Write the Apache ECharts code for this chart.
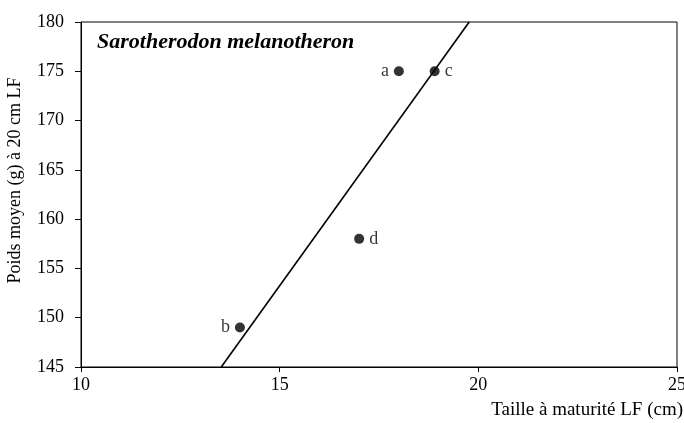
<!DOCTYPE html>
<html>
<head>
<meta charset="utf-8">
<script src="https://cdn.jsdelivr.net/npm/echarts@6/dist/echarts.min.js"></script>
<style>html,body{margin:0;padding:0;background:#fff}#c{width:684px;height:423px}</style>
</head>
<body>
<div id="c"></div>
<script>
var pointLabels = ['a', 'c', 'd', 'b'];
var pointX = [18, 18.9, 17, 14];
var pointY = [175, 175, 158, 149];
var lineX = [13.53, 19.77];
var lineY = [145, 180];
var xTicks = [10, 15, 20, 25];
var yTicks = [145, 150, 155, 160, 165, 170, 175, 180];
var titleText = 'Sarotherodon melanotheron';
var xName = 'Taille à maturité LF (cm)';
var yName = 'Poids moyen (g) à 20 cm LF';

var font = '"Liberation Serif", "Times New Roman", serif';
var labelPos = {a: 'left', c: 'right', d: 'right', b: 'left'};

var chart = echarts.init(document.getElementById('c'), null, {renderer: 'canvas'});
chart.setOption({
  animation: false,
  backgroundColor: '#fff',
  grid: {left: 81, right: 7, top: 22, bottom: 56, containLabel: false, outerBoundsMode: 'none',
    show: true, borderColor: '#000', borderWidth: 1, backgroundColor: 'transparent'},
  xAxis: {
    type: 'value', min: 10, max: 25, interval: 5,
    axisLine: {show: true, lineStyle: {color: '#000', width: 1}},
    axisTick: {show: true, inside: false, length: 5, lineStyle: {color: '#000'}},
    axisLabel: {color: '#000', fontFamily: font, fontSize: 18, margin: 9},
    splitLine: {show: false}
  },
  yAxis: {
    type: 'value', min: 145, max: 180, interval: 5,
    axisLine: {show: true, lineStyle: {color: '#000', width: 1}},
    axisTick: {show: true, inside: false, length: 6, lineStyle: {color: '#000'}},
    axisLabel: {color: '#000', fontFamily: font, fontSize: 18, margin: 17},
    splitLine: {show: false},
    name: yName, nameLocation: 'middle', nameGap: 57, nameRotate: 90,
    nameTextStyle: {color: '#000', fontFamily: font, fontSize: 18, padding: [0, 0, 0, 28]}
  },
  graphic: [
    {type: 'text', left: 97, top: 31, style: {text: titleText, font: 'italic bold 22px ' + font, fill: '#000'}},
    {type: 'text', right: 1, top: 401, style: {text: xName, font: '19px ' + font, fill: '#000'}}
  ],
  series: [
    {
      type: 'line', data: lineX.map(function (x, i) { return [x, lineY[i]]; }),
      symbol: 'none', lineStyle: {color: '#000', width: 1.6}, z: 2
    },
    {
      type: 'scatter', symbol: 'circle', symbolSize: 10,
      data: pointX.map(function (x, i) {
        return {value: [x, pointY[i]], name: pointLabels[i],
          label: {position: labelPos[pointLabels[i]]}};
      }),
      itemStyle: {color: '#000'},
      label: {show: true, formatter: '{b}', color: '#000', fontFamily: font, fontSize: 18, distance: 5},
      z: 3
    }
  ]
});
</script>
</body>
</html>
